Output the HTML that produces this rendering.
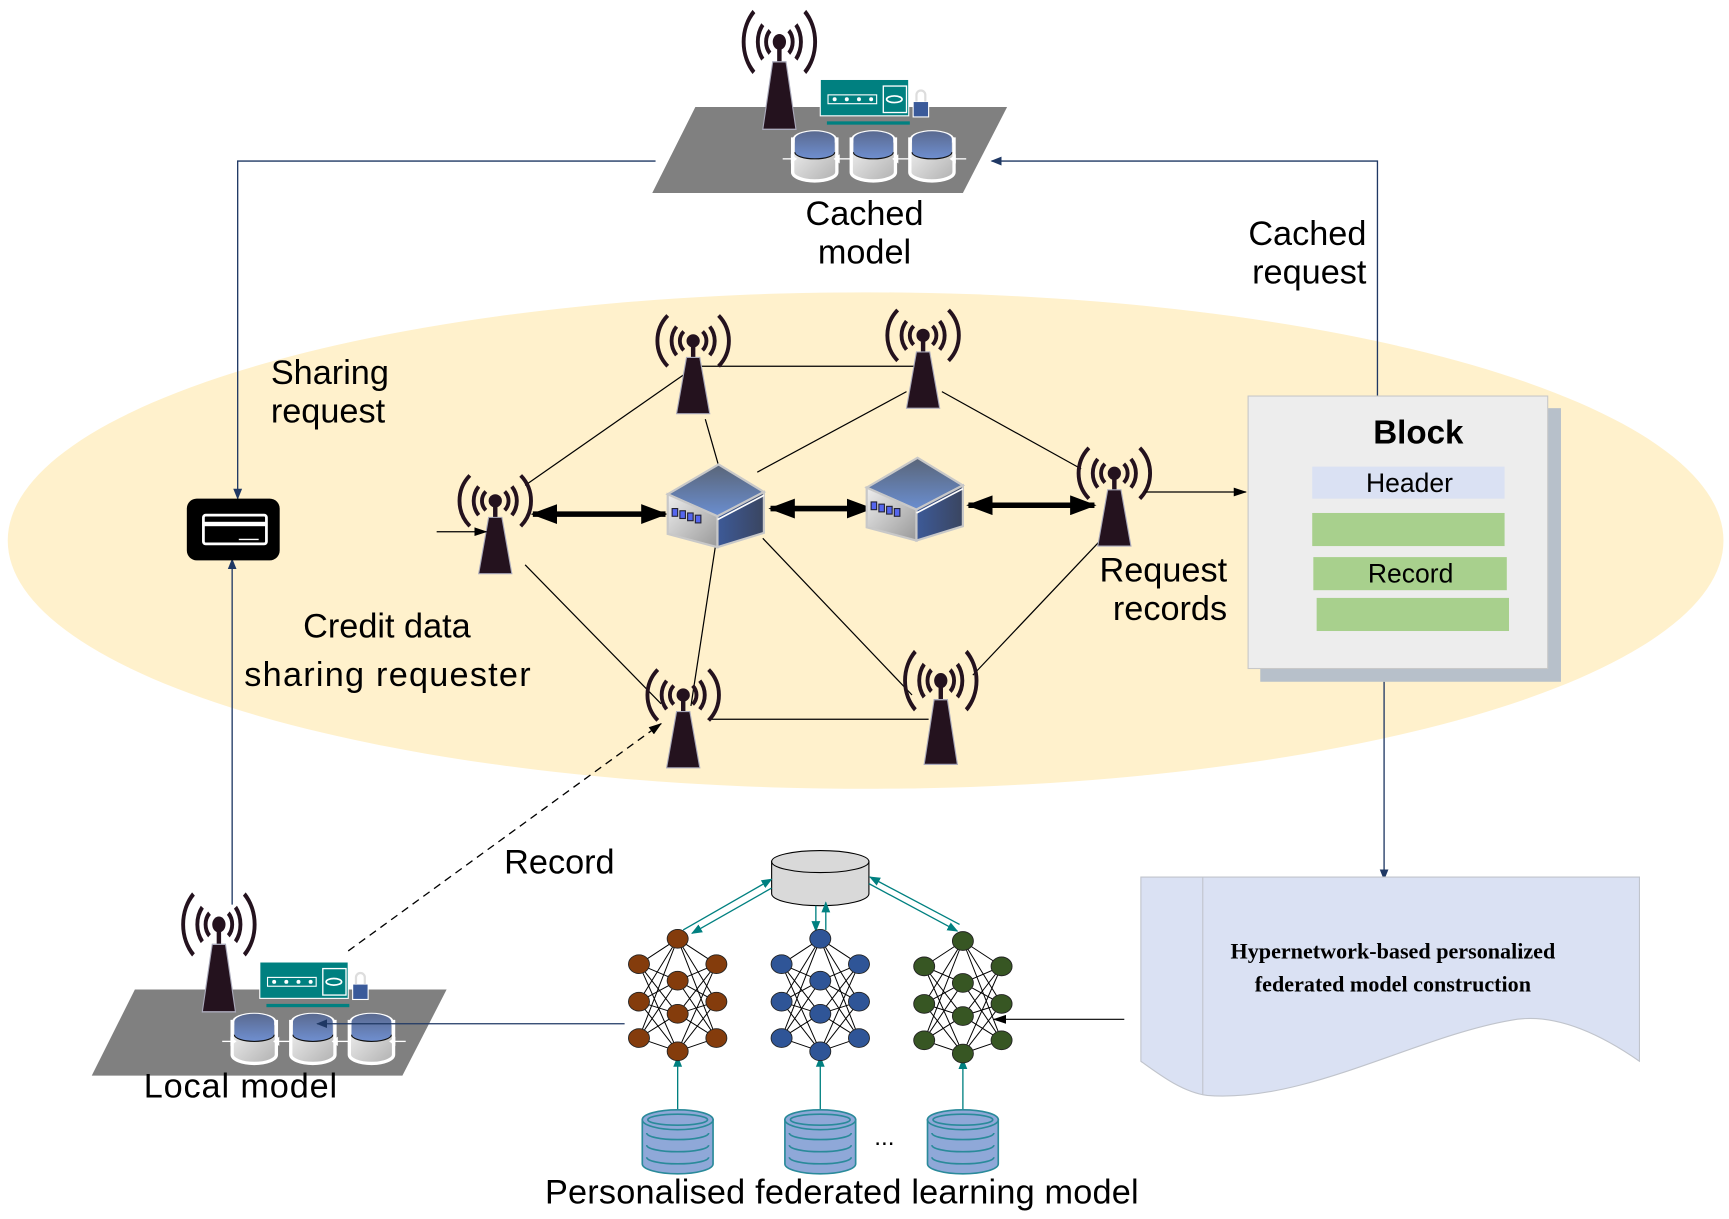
<!DOCTYPE html>
<html><head><meta charset="utf-8"><style>
html,body{margin:0;padding:0;background:#fff;}
svg{display:block;}
.s{font-family:"Liberation Sans",sans-serif;}
</style></head><body>
<svg width="1729" height="1219" viewBox="0 0 1564 1105" preserveAspectRatio="none" xmlns="http://www.w3.org/2000/svg">
<defs>
<linearGradient id="drumTop" x1="0" y1="0" x2="0" y2="1"><stop offset="0" stop-color="#5a6a90"/><stop offset="1" stop-color="#6f8fd0"/></linearGradient>
<linearGradient id="drumBody" x1="0" y1="0" x2="1" y2="1"><stop offset="0" stop-color="#f4f4f4"/><stop offset="1" stop-color="#b0b0b0"/></linearGradient>
<linearGradient id="rtTop" x1="0" y1="0" x2="0" y2="1"><stop offset="0" stop-color="#5a6578"/><stop offset="1" stop-color="#6a8ed0"/></linearGradient>
<linearGradient id="rtRight" x1="0" y1="0" x2="1" y2="0"><stop offset="0" stop-color="#3d5a98"/><stop offset="1" stop-color="#3a4560"/></linearGradient>
<linearGradient id="rtLeft" x1="0" y1="0" x2="1" y2="1"><stop offset="0" stop-color="#eee"/><stop offset="1" stop-color="#999"/></linearGradient>
<marker id="ab" markerWidth="10" markerHeight="10" refX="9" refY="5" orient="auto" markerUnits="userSpaceOnUse"><path d="M0,1 L10,5 L0,9 Z" fill="#1f3864"/></marker>
<marker id="ak" markerWidth="12" markerHeight="10" refX="11" refY="5" orient="auto" markerUnits="userSpaceOnUse"><path d="M0,1 L12,5 L0,9 Z" fill="#000"/></marker>
<marker id="at" markerWidth="10" markerHeight="10" refX="9" refY="5" orient="auto" markerUnits="userSpaceOnUse"><path d="M0,1 L10,5 L0,9 Z" fill="#008080"/></marker>
<marker id="bk" markerWidth="24" markerHeight="18" refX="22" refY="9" orient="auto-start-reverse" markerUnits="userSpaceOnUse"><path d="M0,0 L24,9 L0,18 Z" fill="#000"/></marker>
<g id="tower">
 <g fill="none" stroke="#24121e" stroke-width="3.5">
  <path d="M-8.5,-8.5 A12,12 0 0 0 -8.5,8.5 M8.5,-8.5 A12,12 0 0 1 8.5,8.5"/>
  <path d="M-15,-13 A21,21 0 0 0 -15,13 M15,-13 A21,21 0 0 1 15,13"/>
  <path d="M-23,-23 A33,33 0 0 0 -23,23 M23,-23 A33,33 0 0 1 23,23"/>
 </g>
 <circle r="6" fill="#24121e"/>
 <rect x="-2" y="0" width="4" height="16" fill="#24121e"/>
 <polygon points="-6,15 6,15 15,66 -15,66" fill="#24121e" stroke="#aab" stroke-width="1"/>
</g>
<g id="router">
 <polygon points="0,0 41,25 -1,47 -46,27" fill="url(#rtTop)" stroke="#c8c8c8" stroke-width="2"/>
 <polygon points="-46,27 -1,47 -1,75 -46,63" fill="url(#rtLeft)" stroke="#c8c8c8" stroke-width="2"/>
 <polygon points="-1,47 41,25 41,62 -1,75" fill="url(#rtRight)" stroke="#c8c8c8" stroke-width="2"/>
 <line x1="-1" y1="50" x2="41" y2="28" stroke="#fff" stroke-width="1.5"/>
 <g fill="#5566ee" stroke="#223" stroke-width="1"><rect x="-42" y="40" width="5" height="7"/><rect x="-35" y="42" width="5" height="7"/><rect x="-28" y="44" width="5" height="7"/><rect x="-21" y="46" width="5" height="7"/></g>
</g>
<g id="drum">
 <path d="M-20,-10 V20 A20,8 0 0 0 20,20 V-10 Z" fill="url(#drumBody)" stroke="#fff" stroke-width="3"/>
 <ellipse cx="0" cy="-10" rx="20" ry="8" fill="#fff"/>
 <path d="M-18,-10 A18,7 0 0 1 18,-10 V2 A18,6 0 0 1 -18,2 Z" fill="url(#drumTop)"/>
 <path d="M-18,2 A18,6 0 0 0 18,2" fill="none" stroke="#111" stroke-width="1"/>
</g>
<g id="station">
 <polygon points="629,97 911,97 871,175 590,175" fill="#808080"/>
 <use href="#tower" transform="translate(705,38) scale(1,1.2)"/>
 <rect x="742" y="72" width="80" height="33" fill="#008080" stroke="#fff" stroke-width="1"/>
 <rect x="748" y="110" width="75" height="3" fill="#008080"/>
 <g fill="#fff"><circle cx="755" cy="90" r="1.8"/><circle cx="766" cy="90" r="1.8"/><circle cx="777" cy="90" r="1.8"/><circle cx="788" cy="90" r="1.8"/></g>
 <rect x="749" y="86" width="44" height="8" fill="none" stroke="#fff" stroke-width="1"/>
 <rect x="799" y="78" width="21" height="24" fill="none" stroke="#fff" stroke-width="1.2"/>
 <ellipse cx="809" cy="90" rx="7" ry="3" fill="none" stroke="#fff" stroke-width="1.5"/>
 <rect x="826" y="92" width="14" height="14" fill="#3a5a9a" stroke="#fff"/>
 <path d="M829,92 V86 A4,4 0 0 1 837,86 V92" fill="none" stroke="#ddd" stroke-width="2"/>
 <use href="#drum" transform="translate(737,136)"/>
 <use href="#drum" transform="translate(790,136)"/>
 <use href="#drum" transform="translate(843,136)"/>
 <g stroke="#fff" stroke-width="1.2" fill="#fff"><path d="M708,144 H716"/><path d="M759,144 H769"/><path d="M812,144 H822"/><path d="M864,144 H874"/>
 <path d="M716,141 L720,144 L716,147Z"/><path d="M759,141 L755,144 L759,147Z"/><path d="M812,141 L808,144 L812,147Z"/><path d="M864,141 L860,144 L864,147Z"/></g>
</g>
<g id="nn">
 <g stroke="#000" stroke-width="0.9">
  <path d="M0,0 L-35,23 M0,0 L35,23 M0,0 L-35,57 M0,0 L35,57 M0,0 L-35,90 M0,0 L35,90 M0,102 L-35,23 M0,102 L35,23 M0,102 L-35,57 M0,102 L35,57 M0,102 L-35,90 M0,102 L35,90"/>
  <path d="M-35,23 L0,38 M-35,23 L0,68 M-35,57 L0,38 M-35,57 L0,68 M-35,90 L0,38 M-35,90 L0,68 M35,23 L0,38 M35,23 L0,68 M35,57 L0,38 M35,57 L0,68 M35,90 L0,38 M35,90 L0,68"/>
 </g>
 <g stroke="#222" stroke-width="0.8">
  <ellipse cx="0" cy="0" rx="9.5" ry="8.5"/><ellipse cx="0" cy="38" rx="9.5" ry="8.5"/><ellipse cx="0" cy="68" rx="9.5" ry="8.5"/><ellipse cx="0" cy="102" rx="9.5" ry="8.5"/>
  <ellipse cx="-35" cy="23" rx="9.5" ry="8.5"/><ellipse cx="-35" cy="57" rx="9.5" ry="8.5"/><ellipse cx="-35" cy="90" rx="9.5" ry="8.5"/>
  <ellipse cx="35" cy="23" rx="9.5" ry="8.5"/><ellipse cx="35" cy="57" rx="9.5" ry="8.5"/><ellipse cx="35" cy="90" rx="9.5" ry="8.5"/>
 </g>
</g>
<g id="db">
 <g fill="#8fa8d8" stroke="#2a8a9a" stroke-width="1.5">
  <path d="M-32,-15 V25 A32,9 0 0 0 32,25 V-15 Z"/>
  <ellipse cx="0" cy="-15" rx="32" ry="9"/>
 </g>
 <g fill="none" stroke="#2a8a9a" stroke-width="1.5">
  <ellipse cx="0" cy="-15" rx="27" ry="5"/>
  <path d="M-28,-3 A28,6 0 0 0 28,-3 M-28,8 A28,6 0 0 0 28,8 M-28,19 A28,6 0 0 0 28,19"/>
 </g>
</g>
</defs>

<ellipse cx="783" cy="490" rx="776" ry="225" fill="#fff1cc"/>

<g stroke="#000" stroke-width="1.1" fill="none">
 <line x1="628" y1="332" x2="835" y2="332"/>
 <line x1="618" y1="340" x2="475" y2="440"/>
 <line x1="638" y1="380" x2="650" y2="422"/>
 <line x1="820" y1="355" x2="685" y2="428"/>
 <line x1="852" y1="355" x2="978" y2="425"/>
 <line x1="475" y1="512" x2="598" y2="638"/>
 <line x1="647" y1="496" x2="625" y2="640"/>
 <line x1="690" y1="488" x2="825" y2="630"/>
 <line x1="640" y1="652" x2="840" y2="652"/>
 <line x1="880" y1="612" x2="1000" y2="485"/>
</g>
<g stroke="#000" stroke-width="5">
 <line x1="482" y1="466" x2="602" y2="466" marker-start="url(#bk)" marker-end="url(#bk)"/>
 <line x1="697" y1="461" x2="788" y2="461" marker-start="url(#bk)" marker-end="url(#bk)"/>
 <line x1="876" y1="458" x2="990" y2="458" marker-start="url(#bk)" marker-end="url(#bk)"/>
</g>
<use href="#router" transform="translate(650,421)"/>
<use href="#router" transform="translate(830,415)"/>
<use href="#tower" transform="translate(627,309)"/>
<use href="#tower" transform="translate(835,304)"/>
<use href="#tower" transform="translate(448,454)"/>
<use href="#tower" transform="translate(1008,429)"/>
<use href="#tower" transform="translate(618,630)"/>
<use href="#tower" transform="translate(851,617) scale(1,1.15)"/>
<line x1="395" y1="482" x2="440" y2="482" stroke="#000" stroke-width="1.1" marker-end="url(#ak)"/>
<line x1="1036" y1="446" x2="1127" y2="446" stroke="#000" stroke-width="1.1" marker-end="url(#ak)"/>

<use href="#station"/>
<use href="#station" transform="translate(-507,800)"/>

<g stroke="#1f3864" stroke-width="1.2" fill="none">
 <polyline points="593,146 215,146 215,452" marker-end="url(#ab)"/>
 <polyline points="1246,360 1246,146 897,146" marker-end="url(#ab)"/>
 <line x1="210" y1="820" x2="210" y2="507" marker-end="url(#ab)"/>
 <line x1="1252" y1="618" x2="1252" y2="797" marker-end="url(#ab)"/>
 <line x1="565" y1="928" x2="287" y2="928" marker-end="url(#ab)"/>
</g>
<line x1="1017" y1="924" x2="899" y2="924" stroke="#000" stroke-width="1.1" marker-end="url(#ak)"/>
<line x1="315" y1="862" x2="598" y2="656" stroke="#000" stroke-width="1.2" stroke-dasharray="7,5" marker-end="url(#ak)"/>

<rect x="169" y="452" width="84" height="56" rx="9" fill="#000"/>
<rect x="184" y="467" width="57" height="26" rx="2" fill="#000" stroke="#fff" stroke-width="2.5"/>
<rect x="184" y="473" width="57" height="4" fill="#fff"/>
<line x1="216" y1="489" x2="234" y2="489" stroke="#fff" stroke-width="1.2"/>

<rect x="1140" y="370" width="272" height="248" fill="#b7c0ca"/>
<rect x="1129" y="359" width="271" height="247" fill="#ededed" stroke="#c8c8c8" stroke-width="1"/>
<text class="s" x="1283" y="402" font-size="30" font-weight="bold" text-anchor="middle">Block</text>
<rect x="1187" y="423" width="174" height="29" fill="#dae1f3"/>
<text class="s" x="1275" y="446" font-size="24" text-anchor="middle">Header</text>
<rect x="1187" y="465" width="174" height="30" fill="#a8d08d"/>
<rect x="1188" y="505" width="175" height="30" fill="#a8d08d"/>
<text class="s" x="1276" y="528" font-size="24" text-anchor="middle">Record</text>
<rect x="1191" y="542" width="174" height="30" fill="#a8d08d"/>

<path d="M1032,795 H1483 V962 C1440,932 1400,918 1366,925 C1280,940 1180,1000 1092,993 C1070,990 1050,975 1032,962 Z" fill="#dae1f3" stroke="#c0c4cc" stroke-width="1"/>
<line x1="1088" y1="795" x2="1088" y2="992" stroke="#c0c4cc" stroke-width="1"/>
<text x="1260" y="869" style="font-family:'Liberation Serif',serif" font-size="20" font-weight="bold" text-anchor="middle">Hypernetwork-based personalized</text>
<text x="1260" y="899" style="font-family:'Liberation Serif',serif" font-size="20" font-weight="bold" text-anchor="middle">federated model construction</text>

<path d="M698,781 V810 A44,11 0 0 0 786,810 V781 Z" fill="#d9d9d9" stroke="#000" stroke-width="1"/>
<ellipse cx="742" cy="781" rx="44" ry="10" fill="#d9d9d9" stroke="#000" stroke-width="1"/>
<g stroke="#008080" stroke-width="1.2">
 <line x1="618" y1="843" x2="698" y2="797" marker-end="url(#at)"/>
 <line x1="698" y1="805" x2="626" y2="846" marker-end="url(#at)"/>
 <line x1="738" y1="821" x2="738" y2="844" marker-end="url(#at)"/>
 <line x1="747" y1="843" x2="747" y2="818" marker-end="url(#at)"/>
 <line x1="786" y1="801" x2="866" y2="844" marker-end="url(#at)"/>
 <line x1="868" y1="838" x2="787" y2="795" marker-end="url(#at)"/>
 <line x1="613" y1="1007" x2="613" y2="958" marker-end="url(#at)"/>
 <line x1="742" y1="1007" x2="742" y2="958" marker-end="url(#at)"/>
 <line x1="871" y1="1007" x2="871" y2="960" marker-end="url(#at)"/>
</g>
<use href="#nn" transform="translate(613,851)" fill="#843c0c"/>
<use href="#nn" transform="translate(742,851)" fill="#2f5597"/>
<use href="#nn" transform="translate(871,853)" fill="#375623"/>
<use href="#db" transform="translate(613,1030)"/>
<use href="#db" transform="translate(742,1030)"/>
<use href="#db" transform="translate(871,1030)"/>
<text class="s" x="800" y="1038" font-size="22" text-anchor="middle">...</text>

<g class="s" font-size="31" fill="#000">
 <text x="782" y="204" text-anchor="middle">Cached</text>
 <text x="782" y="239" text-anchor="middle">model</text>
 <text x="1236" y="222" text-anchor="end">Cached</text>
 <text x="1236" y="257" text-anchor="end">request</text>
 <text x="245" y="348">Sharing</text>
 <text x="245" y="383">request</text>
 <text x="350" y="578" text-anchor="middle">Credit data</text>
 <text x="221" y="622" textLength="259">sharing requester</text>
 <text x="1110" y="527" text-anchor="end">Request</text>
 <text x="1110" y="562" text-anchor="end">records</text>
 <text x="506" y="792" text-anchor="middle">Record</text>
 <text x="130" y="995" textLength="175">Local model</text>
 <text x="493" y="1091" textLength="537">Personalised federated learning model</text>
</g>
</svg>
</body></html>
